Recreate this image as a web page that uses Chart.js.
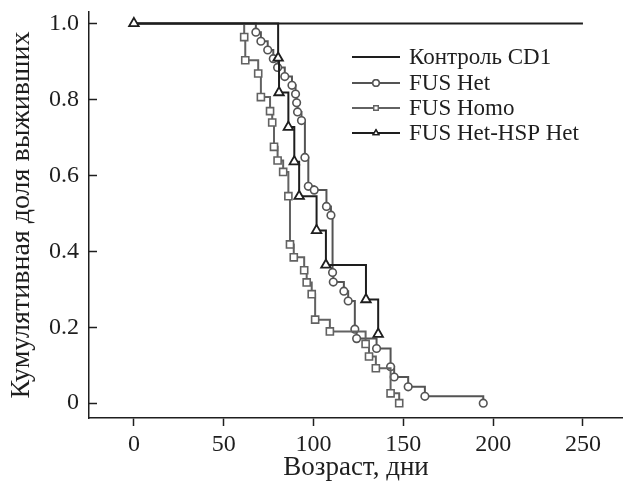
<!DOCTYPE html>
<html lang="ru">
<head>
    <meta charset="UTF-8">
    <title>Кумулятивная доля выживших</title>
    <script src="https://cdn.jsdelivr.net/npm/chart.js@4.4.0/dist/chart.umd.min.js"></script>
    <style>
        html, body { margin: 0; padding: 0; background: #fff; }
        .chart-container { position: relative; width: 623px; height: 486px; }
    </style>
</head>
<body>
    <div class="chart-container">
        <canvas id="survivalChart" width="623" height="486"></canvas>
    </div>

    <script>
        // Kaplan-Meier steps: age (days) and survival fraction
        const seriesNames = ['Контроль CD1', 'FUS Het', 'FUS Homo', 'FUS Het-HSP Het'];

        const controlDays = [0, 250];
        const controlSurv = [1, 1];

        const hetDays = [0, 67.9, 70.7, 74.5, 77.6, 80, 84, 88, 90, 90.6, 91.1, 93.3, 95.2, 97.1, 100.4, 107.2, 109.7, 110.6, 111, 116.9, 119.3, 123, 124, 135.1, 142.9, 144.9, 152.7, 162, 194.5];
        const hetSurv = [1, 0.977, 0.953, 0.93, 0.907, 0.884, 0.86, 0.837, 0.814, 0.791, 0.767, 0.744, 0.647, 0.571, 0.561, 0.518, 0.495, 0.344, 0.319, 0.295, 0.269, 0.195, 0.17, 0.144, 0.096, 0.069, 0.043, 0.018, 0];

        const homoDays = [0, 61.4, 62, 69.2, 70.7, 75.8, 77, 78, 80, 83.1, 86, 86.9, 89, 94.8, 96.2, 99, 100.9, 109.1, 129, 130.9, 134.7, 142.9, 147.7];
        const homoSurv = [1, 0.964, 0.903, 0.868, 0.806, 0.769, 0.739, 0.675, 0.639, 0.609, 0.545, 0.418, 0.384, 0.35, 0.318, 0.287, 0.22, 0.189, 0.156, 0.123, 0.092, 0.026, 0];

        const hspDays = [0, 80.3, 80.8, 86, 89.3, 92, 101.7, 106.9, 129.2, 136];
        const hspSurv = [1, 0.909, 0.818, 0.727, 0.636, 0.545, 0.455, 0.364, 0.273, 0.182];

        const xTicks = [0, 50, 100, 150, 200, 250];
        const yTicks = [0, 0.2, 0.4, 0.6, 0.8, 1.0];

        const FONT = "'Liberation Serif', 'Times New Roman', serif";

        function toPoints(days, surv) {
            return days.map((d, i) => ({ x: d, y: surv[i] }));
        }

        // no marker on the shared starting point, except for the triangles
        const hideFirst = r => ctx => ctx.dataIndex === 0 ? 0 : r;

        // keep the plot box where the figure has it
        const noScalePadding = s => {
            s.paddingTop = 0;
            s.paddingBottom = 0;
            s.paddingLeft = 0;
            s.paddingRight = 0;
        };

        const datasets = [
            {
                label: seriesNames[0],
                data: toPoints(controlDays, controlSurv),
                borderColor: '#1e1e1e',
                borderWidth: 2,
                pointRadius: 0,
                order: 3
            },
            {
                label: seriesNames[1],
                data: toPoints(hetDays, hetSurv),
                borderColor: '#545454',
                borderWidth: 2,
                pointStyle: 'circle',
                pointRadius: hideFirst(3.8),
                pointBorderWidth: 1.6,
                pointBackgroundColor: '#fff',
                order: 2
            },
            {
                label: seriesNames[2],
                data: toPoints(homoDays, homoSurv),
                borderColor: '#626262',
                borderWidth: 2,
                pointStyle: 'rect',
                pointRadius: hideFirst(5),
                pointBorderWidth: 1.6,
                pointBackgroundColor: '#fff',
                order: 1
            },
            {
                label: seriesNames[3],
                data: toPoints(hspDays, hspSurv),
                borderColor: '#1e1e1e',
                borderWidth: 2,
                pointStyle: 'triangle',
                pointRadius: 5.5,
                pointBorderWidth: 1.8,
                pointBackgroundColor: '#fff',
                order: 0
            }
        ];
        datasets.forEach(ds => {
            ds.stepped = 'before';
            ds.fill = false;
            ds.clip = false;
            ds.pointBorderColor = ds.borderColor;
            ds.pointHoverRadius = 0;
        });

        // y ticks point into the plot, so they are drawn here
        const innerTicks = {
            id: 'innerTicks',
            afterDatasetsDraw(chart) {
                const { ctx, chartArea, scales } = chart;
                ctx.save();
                ctx.strokeStyle = '#1e1e1e';
                ctx.lineWidth = 1.5;
                yTicks.forEach(v => {
                    const py = Math.round(scales.y.getPixelForValue(v)) + 0.5;
                    ctx.beginPath();
                    ctx.moveTo(chartArea.left, py);
                    ctx.lineTo(chartArea.left + 8, py);
                    ctx.stroke();
                });
                ctx.restore();
            }
        };

        // legend inside the plot: line sample with the marker in the middle
        const insideLegend = {
            id: 'insideLegend',
            afterDraw(chart) {
                const ctx = chart.ctx;
                const x0 = 352, x1 = 400, tx = 409;
                const rows = [57, 83, 108, 133];
                ctx.save();
                chart.data.datasets.forEach((ds, i) => {
                    const y = rows[i];
                    ctx.strokeStyle = ds.borderColor;
                    ctx.lineWidth = 2;
                    ctx.beginPath();
                    ctx.moveTo(x0, y);
                    ctx.lineTo(x1, y);
                    ctx.stroke();
                    if (ds.pointStyle) {
                        ctx.fillStyle = '#fff';
                        ctx.lineWidth = 1.4;
                        Chart.helpers.drawPoint(ctx, { pointStyle: ds.pointStyle, radius: 3.2, borderWidth: 1.4 }, (x0 + x1) / 2, y);
                        ctx.fill();
                        ctx.stroke();
                    }
                    ctx.fillStyle = '#1e1e1e';
                    ctx.font = '23px ' + FONT;
                    ctx.textBaseline = 'middle';
                    ctx.textAlign = 'left';
                    ctx.fillText(ds.label, tx, y + 1);
                });
                ctx.restore();
            }
        };

        new Chart(document.getElementById('survivalChart'), {
            type: 'line',
            data: { datasets },
            plugins: [innerTicks, insideLegend],
            options: {
                responsive: false,
                animation: false,
                maintainAspectRatio: false,
                layout: { autoPadding: false, padding: { top: 12, right: 0, left: 0, bottom: 0 } },
                plugins: {
                    legend: { display: false },
                    tooltip: { enabled: false }
                },
                scales: {
                    x: {
                        type: 'linear',
                        min: -25,
                        max: 272.3,
                        afterBuildTicks: s => { s.ticks = xTicks.map(v => ({ value: v })); },
                        afterFit: s => { s.height = 68; noScalePadding(s); },
                        border: { display: true, color: '#1e1e1e', width: 1.5 },
                        grid: { drawOnChartArea: false, tickLength: 8, tickWidth: 1.5, tickColor: '#1e1e1e' },
                        ticks: {
                            color: '#1e1e1e',
                            padding: 4,
                            maxRotation: 0,
                            font: { family: FONT, size: 24 },
                            callback: v => String(v)
                        },
                        title: {
                            display: true,
                            text: 'Возраст, дни',
                            color: '#1e1e1e',
                            padding: { top: 0, bottom: 2 },
                            font: { family: FONT, size: 27 }
                        }
                    },
                    y: {
                        type: 'linear',
                        min: -0.039,
                        max: 1.03,
                        afterBuildTicks: s => { s.ticks = yTicks.map(v => ({ value: v })); },
                        afterFit: s => { s.width = 89; noScalePadding(s); },
                        border: { display: true, color: '#1e1e1e', width: 1.5 },
                        grid: { drawOnChartArea: false, drawTicks: false },
                        ticks: {
                            color: '#1e1e1e',
                            padding: 10,
                            font: { family: FONT, size: 24 },
                            callback: v => v === 0 ? '0' : v.toFixed(1)
                        },
                        title: {
                            display: true,
                            text: 'Кумулятивная доля выживших',
                            color: '#1e1e1e',
                            padding: { top: 5, bottom: 4 },
                            font: { family: FONT, size: 28 }
                        }
                    }
                }
            }
        });
    </script>
</body>
</html>
